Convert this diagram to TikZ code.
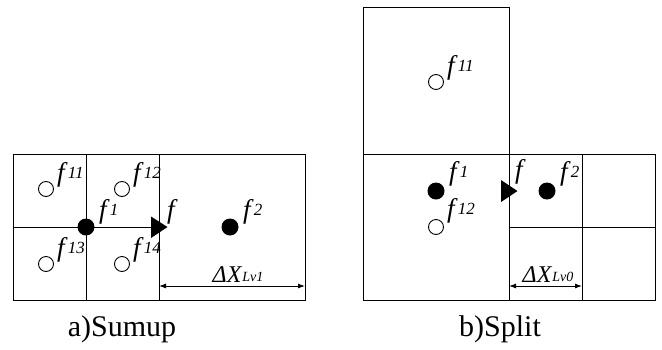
\documentclass[tikz,border=0pt]{standalone}
\usepackage{fontspec}
\setmainfont{Liberation Serif}
\newfontfamily\tms{Liberation Serif}
\usetikzlibrary{arrows.meta}
\newcommand{\fl}[1]{\textit{f}\raisebox{2.5pt}{\fontsize{17}{17}\selectfont\textit{#1}}}
\newcommand{\dx}[1]{\textit{ΔX}\raisebox{1pt}{\fontsize{14}{14}\selectfont\textit{#1}}}
\begin{document}
\begin{tikzpicture}[x=1pt,y=-1pt,
  cell/.style={line width=1pt},
  odot/.style={circle,draw,line width=0.9pt,minimum size=15pt,inner sep=0pt,fill=white},
  fdot/.style={circle,fill=black,minimum size=17pt,inner sep=0pt},
  lab/.style={anchor=base west,inner sep=0pt,font=\tms\fontsize{27}{27}\selectfont},
  dimline/.style={line width=0.9pt,{Latex[length=7pt,width=5pt]}-{Latex[length=7pt,width=5pt]}},
  dimlab/.style={anchor=base,inner sep=0pt,font=\tms\fontsize{24}{24}\selectfont},
  captext/.style={anchor=base,inner sep=0pt,font=\tms\fontsize{30}{30}\selectfont}]
\useasboundingbox (0,0) rectangle (662,349);
% ---- left panel (Sumup)
\draw[cell] (13,154) rectangle (305,300);
\draw[cell] (86,154) -- (86,300);
\draw[cell] (159,154) -- (159,300);
\draw[cell] (13,227) -- (159,227);
\node[odot] (a11) at (46,189) {};
\node[odot] (a12) at (122,189) {};
\node[odot] (a13) at (46,264) {};
\node[odot] (a14) at (122,264) {};
\node[fdot] (a1) at (86,227) {};
\node[fdot] (a2) at (230,227) {};
\fill (151,216.5) -- (167.5,227) -- (151,238) -- cycle;
\node[lab] (la11) at (57,181) {\fl{11}};
\node[lab] (la12) at (133,181) {\fl{12}};
\node[lab] (la13) at (57,256) {\fl{13}};
\node[lab] (la14) at (133,256) {\fl{14}};
\node[lab] (la1) at (99,218) {\fl{1}};
\node[lab] (laf) at (167,218) {\textit{f}};
\node[lab] (la2) at (243,218) {\fl{2}};
\coordinate (ad1) at (159,286);
\coordinate (ad2) at (305,286);
\draw[dimline] (ad1) -- (ad2);
\node[dimlab] (ladx) at (238,282) {\dx{Lv1}};
\node[captext] (capa) at (122,336) {a)Sumup};
% ---- right panel (Split)
\draw[cell] (363,7) rectangle (509,154);
\draw[cell] (363,154) rectangle (655,300);
\draw[cell] (509,154) -- (509,300);
\draw[cell] (582,154) -- (582,300);
\draw[cell] (509,227) -- (655,227);
\node[odot] (b11) at (436,82) {};
\node[fdot] (b1) at (436,191) {};
\node[odot] (b12) at (436,227) {};
\node[fdot] (b2) at (547,191) {};
\fill (501,180) -- (517.5,191) -- (501,202) -- cycle;
\node[lab] (lb11) at (447,74) {\fl{11}};
\node[lab] (lb1) at (449,180) {\fl{1}};
\node[lab] (lb12) at (447,217) {\fl{12}};
\node[lab] (lbf) at (515,178) {\textit{f}};
\node[lab] (lb2) at (560,180) {\fl{2}};
\coordinate (bd1) at (509,286);
\coordinate (bd2) at (582,286);
\draw[dimline] (bd1) -- (bd2);
\node[dimlab] (lbdx) at (548,282) {\dx{Lv0}};
\node[captext] (capb) at (500,336) {b)Split};
\end{tikzpicture}
\end{document}
